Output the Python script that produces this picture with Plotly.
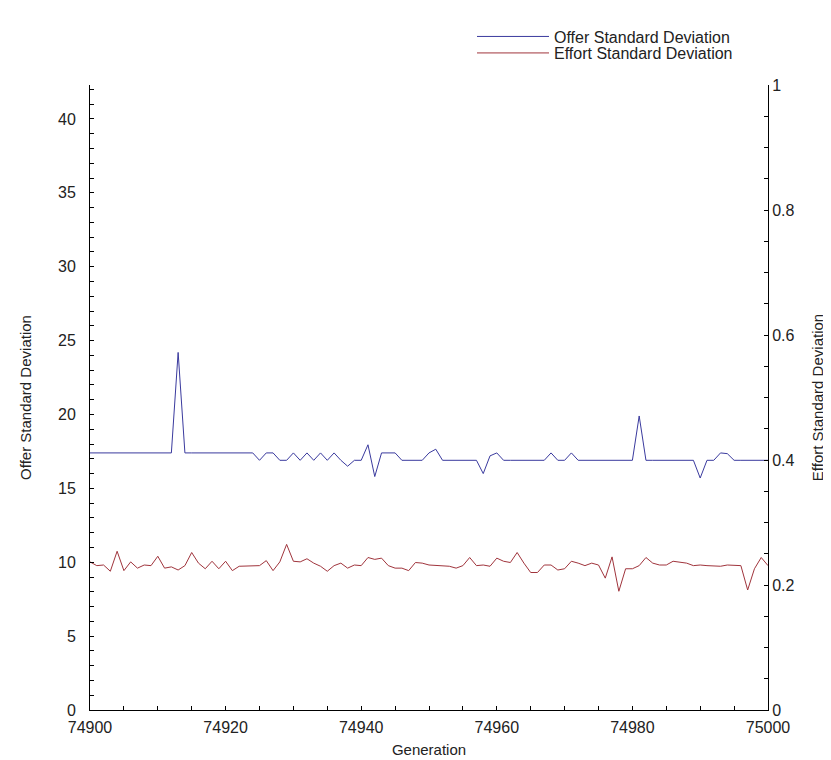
import plotly.graph_objects as go

generations = list(range(74900, 75001))

offer_sd = [
    17.4, 17.4, 17.4, 17.35, 17.4, 17.4, 17.4, 17.4, 17.4, 17.4,
    17.4, 17.4, 17.4, 24.2, 17.4, 17.4, 17.4, 17.4, 17.4, 17.4,
    17.4, 17.4, 17.4, 17.4, 17.4, 16.9, 17.4, 17.4, 16.9, 16.9,
    17.4, 16.9, 17.4, 16.9, 17.4, 16.9, 17.4, 16.9, 16.5, 16.9,
    16.9, 17.95, 15.8, 17.4, 17.4, 17.4, 16.9, 16.9, 16.9, 16.9,
    17.4, 17.65, 16.9, 16.9, 16.9, 16.9, 16.9, 16.9, 16.0, 17.2,
    17.4, 16.9, 16.9, 16.9, 16.9, 16.9, 16.9, 16.9, 17.4, 16.9,
    16.9, 17.4, 16.9, 16.9, 16.9, 16.9, 16.9, 16.9, 16.9, 16.9,
    16.9, 19.9, 16.9, 16.9, 16.9, 16.9, 16.9, 16.9, 16.9, 16.9,
    15.7, 16.9, 16.9, 17.4, 17.35, 16.9, 16.9, 16.9, 16.9, 16.9,
    16.9,
]

effort_sd = [
    0.237, 0.231, 0.232, 0.222, 0.254, 0.223, 0.237, 0.227, 0.232, 0.231,
    0.246, 0.227, 0.229, 0.224, 0.231, 0.252, 0.235, 0.226, 0.238, 0.226,
    0.238, 0.223, 0.230, 0.230, 0.231, 0.231, 0.239, 0.223, 0.237, 0.265,
    0.238, 0.237, 0.242, 0.235, 0.230, 0.222, 0.231, 0.235, 0.227, 0.232,
    0.231, 0.244, 0.241, 0.243, 0.231, 0.227, 0.227, 0.223, 0.236, 0.235,
    0.232, 0.231, 0.231, 0.230, 0.227, 0.231, 0.244, 0.231, 0.232, 0.230,
    0.243, 0.238, 0.236, 0.252, 0.235, 0.220, 0.220, 0.232, 0.232, 0.224,
    0.226, 0.238, 0.235, 0.231, 0.235, 0.232, 0.211, 0.245, 0.190, 0.226,
    0.226, 0.231, 0.244, 0.235, 0.232, 0.232, 0.238, 0.236, 0.235, 0.231,
    0.232, 0.231, 0.231, 0.230, 0.232, 0.231, 0.231, 0.192, 0.226, 0.244,
    0.231,
]

x_ticks = [74900, 74920, 74940, 74960, 74980, 75000]
left_ticks = [0, 5, 10, 15, 20, 25, 30, 35, 40]
right_ticks = [0, 0.2, 0.4, 0.6, 0.8, 1]
right_labels = ["0", "0.2", "0.4", "0.6", "0.8", "1"]

FONT = "Liberation Sans, Arial, Helvetica, sans-serif"
TXT = "#222222"
BLUE = "#3a3a9e"
RED = "#a0343c"

fig = go.Figure()
fig.add_trace(go.Scatter(x=generations, y=offer_sd, mode="lines",
                         name="Offer Standard Deviation",
                         line=dict(color=BLUE, width=1), yaxis="y",
                         legend="legend"))
fig.add_trace(go.Scatter(x=generations, y=effort_sd, mode="lines",
                         name="Effort Standard Deviation",
                         line=dict(color=RED, width=1), yaxis="y2",
                         legend="legend2"))

tick_font = dict(family=FONT, size=16, color=TXT)
title_font = dict(family=FONT, size=15, color=TXT)

axis_common = dict(showline=True, linecolor="black", linewidth=1,
                   showgrid=False, zeroline=False, ticks="inside",
                   ticklen=4, tickcolor="black", tickfont=tick_font)

# plot area: x 82..760, y 66..711 (px)
leg_x = (464 - 82) / 678.0
leg_common = dict(xanchor="left", yanchor="middle", x=leg_x,
                  bgcolor="rgba(0,0,0,0)", itemwidth=72,
                  font=dict(family=FONT, size=16, color=TXT))

fig.update_layout(
    width=831, height=760,
    paper_bgcolor="white", plot_bgcolor="white",
    margin=dict(l=82, r=71, t=66, b=49),
    font=dict(family=FONT, size=15, color=TXT),
    showlegend=True,
    legend=dict(y=(711 - 16) / 645.0, **leg_common),
    legend2=dict(y=(711 - 33) / 645.0, **leg_common),
    xaxis=dict(range=[74900, 75000], tickvals=x_ticks,
               ticktext=[str(v) for v in x_ticks],
               ticklabelstandoff=3,
               minor=dict(dtick=5, ticks="inside", ticklen=4, tickcolor="black"),
               title=dict(text="Generation", standoff=9, font=title_font),
               **axis_common),
    yaxis=dict(range=[0, 42.3], tickvals=left_ticks,
               ticklabelstandoff=10,
               minor=dict(dtick=1, ticks="inside", ticklen=4, tickcolor="black"),
               title=dict(text="Offer Standard Deviation", standoff=22,
                          font=title_font),
               **axis_common),
    yaxis2=dict(range=[0, 1], overlaying="y", side="right",
                tickvals=right_ticks, ticktext=right_labels,
                minor=dict(dtick=0.05, ticks="inside", ticklen=4, tickcolor="black"),
                title=dict(text="Effort Standard Deviation", standoff=18,
                           font=title_font),
                **axis_common),
)

fig.write_html("out.html")
